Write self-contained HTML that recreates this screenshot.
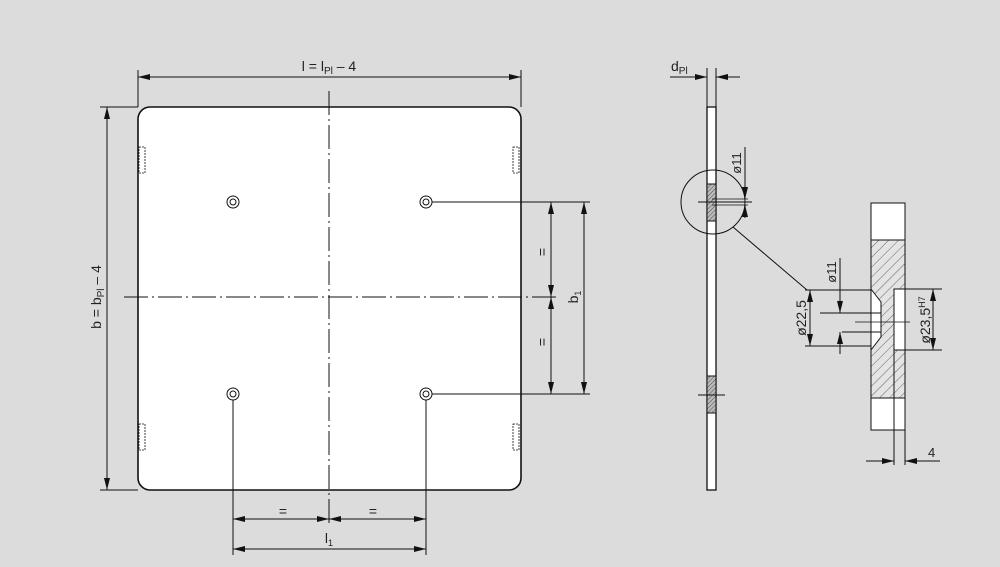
<!DOCTYPE html><html><head><style>html,body{margin:0;padding:0;background:#dcdcdc}svg{display:block}text{font-family:"Liberation Sans",sans-serif;fill:#222}</style></head><body>
<svg width="1000" height="567" viewBox="0 0 1000 567" xmlns="http://www.w3.org/2000/svg">
<defs>
<marker id="a" viewBox="0 0 12 6" refX="12" refY="3" markerWidth="12" markerHeight="6" orient="auto-start-reverse" markerUnits="userSpaceOnUse"><path d="M0,0L12,3L0,6z" fill="#111"/></marker>
<pattern id="h" width="7" height="7" patternUnits="userSpaceOnUse" patternTransform="rotate(45)"><rect width="7" height="7" fill="#e4e4e4"/><line x1="0" y1="0" x2="0" y2="7" stroke="#444" stroke-width="0.8"/></pattern>
<pattern id="h2" width="3" height="3" patternUnits="userSpaceOnUse" patternTransform="rotate(45)"><rect width="3" height="3" fill="#bbb"/><line x1="0" y1="0" x2="0" y2="3" stroke="#333" stroke-width="0.8"/></pattern>
</defs>
<rect width="1000" height="567" fill="#dcdcdc"/>
<g stroke="#111" stroke-width="1" fill="none">
<rect x="138" y="107" width="383" height="383" rx="12" fill="#fff" stroke-width="1.6"/>
<line x1="329" y1="91" x2="329" y2="525" stroke-dasharray="24,4,2,4"/>
<line x1="124" y1="297" x2="560" y2="297" stroke-dasharray="24,4,2,4"/>
<g stroke-width="0.8" stroke-dasharray="2,1"><rect x="139" y="147" width="6" height="26"/><rect x="513" y="147" width="6" height="26"/><rect x="139" y="424" width="6" height="26"/><rect x="513" y="424" width="6" height="26"/></g>
<g><circle cx="233" cy="202" r="6"/><circle cx="233" cy="202" r="3"/><circle cx="426" cy="202" r="6"/><circle cx="426" cy="202" r="3"/><circle cx="233" cy="394" r="6"/><circle cx="233" cy="394" r="3"/><circle cx="426" cy="394" r="6"/><circle cx="426" cy="394" r="3"/></g>
<line x1="138" y1="70" x2="138" y2="107"/><line x1="521" y1="70" x2="521" y2="107"/>
<line x1="138" y1="77" x2="521" y2="77" marker-start="url(#a)" marker-end="url(#a)"/>
<line x1="100" y1="107" x2="138" y2="107"/><line x1="100" y1="490" x2="138" y2="490"/>
<line x1="107" y1="107" x2="107" y2="490" marker-start="url(#a)" marker-end="url(#a)"/>
<line x1="432" y1="202" x2="590" y2="202"/><line x1="432" y1="394" x2="590" y2="394"/>
<line x1="551" y1="202" x2="551" y2="297" marker-start="url(#a)" marker-end="url(#a)"/>
<line x1="551" y1="297" x2="551" y2="394" marker-start="url(#a)" marker-end="url(#a)"/>
<line x1="584" y1="202" x2="584" y2="394" marker-start="url(#a)" marker-end="url(#a)"/>
<line x1="233" y1="400" x2="233" y2="555"/><line x1="426" y1="400" x2="426" y2="555"/>
<line x1="233" y1="519" x2="329" y2="519" marker-start="url(#a)" marker-end="url(#a)"/>
<line x1="329" y1="519" x2="426" y2="519" marker-start="url(#a)" marker-end="url(#a)"/>
<line x1="233" y1="549" x2="426" y2="549" marker-start="url(#a)" marker-end="url(#a)"/>
<rect x="707" y="107" width="9" height="383" fill="#fff" stroke-width="1.3"/>
<line x1="707" y1="68" x2="707" y2="107"/><line x1="716" y1="68" x2="716" y2="107"/>
<line x1="670" y1="77" x2="707" y2="77" marker-end="url(#a)"/><line x1="740" y1="77" x2="716" y2="77" marker-end="url(#a)"/>
<rect x="707" y="184" width="9" height="37" fill="url(#h2)"/>
<rect x="707" y="376" width="9" height="37" fill="url(#h2)"/>
<line x1="698" y1="202" x2="752" y2="202"/><line x1="698" y1="395" x2="725" y2="395"/>
<line x1="712" y1="199" x2="748" y2="199" stroke-width="0.8"/><line x1="712" y1="205" x2="748" y2="205" stroke-width="0.8"/>
<line x1="745" y1="147" x2="745" y2="199" marker-end="url(#a)"/><line x1="745" y1="218" x2="745" y2="205" marker-end="url(#a)"/>
<circle cx="713" cy="202" r="32"/>
<line x1="733" y1="227" x2="807" y2="290"/>
<rect x="871" y="203" width="34" height="227" fill="#fff"/>
<path d="M871,240H905V289H894V350H905V398H871V350L881,337V302L871,289Z" fill="url(#h)"/>
<line x1="871" y1="203" x2="871" y2="430"/><line x1="905" y1="203" x2="905" y2="430"/>
<line x1="871" y1="240" x2="905" y2="240"/><line x1="871" y1="398" x2="905" y2="398"/>
<rect x="894" y="289" width="11" height="61" fill="#fff"/>
<line x1="820" y1="313" x2="881" y2="313"/>
<line x1="842" y1="332" x2="881" y2="332"/>
<line x1="855" y1="322" x2="910" y2="322" stroke-width="0.8"/>
<line x1="805" y1="290" x2="871" y2="290"/><line x1="805" y1="346" x2="871" y2="346"/>
<line x1="810" y1="290" x2="810" y2="346" marker-start="url(#a)" marker-end="url(#a)"/>
<line x1="840" y1="258" x2="840" y2="313" marker-end="url(#a)"/><line x1="840" y1="354" x2="840" y2="332" marker-end="url(#a)"/>
<line x1="905" y1="289" x2="942" y2="289"/><line x1="905" y1="350" x2="942" y2="350"/>
<line x1="933" y1="289" x2="933" y2="350" marker-start="url(#a)" marker-end="url(#a)"/>
<line x1="894" y1="350" x2="894" y2="465"/><line x1="905" y1="430" x2="905" y2="465"/>
<line x1="866" y1="461" x2="894" y2="461" marker-end="url(#a)"/><line x1="940" y1="461" x2="905" y2="461" marker-end="url(#a)"/>
</g>
<text x="329" y="71" font-size="14" text-anchor="middle">l = l<tspan font-size="10" dy="3">Pl</tspan><tspan dy="-3"> – 4</tspan></text>
<text transform="translate(101,297) rotate(-90)" font-size="14" text-anchor="middle">b = b<tspan font-size="10" dy="3">Pl</tspan><tspan dy="-3"> – 4</tspan></text>
<text transform="translate(547,252) rotate(-90)" font-size="14" text-anchor="middle">=</text>
<text transform="translate(547,342) rotate(-90)" font-size="14" text-anchor="middle">=</text>
<text transform="translate(578,297) rotate(-90)" font-size="14" text-anchor="middle">b<tspan font-size="9" dy="3">1</tspan></text>
<text x="283" y="516" font-size="14" text-anchor="middle">=</text>
<text x="373" y="516" font-size="14" text-anchor="middle">=</text>
<text x="329" y="543" font-size="14" text-anchor="middle">l<tspan font-size="9" dy="3">1</tspan></text>
<text x="671" y="71" font-size="14">d<tspan font-size="10" dy="3">Pl</tspan></text>
<text transform="translate(741,163) rotate(-90)" font-size="13" text-anchor="middle">ø11</text>
<text transform="translate(836,272) rotate(-90)" font-size="13" text-anchor="middle">ø11</text>
<text transform="translate(806,318) rotate(-90)" font-size="14" text-anchor="middle">ø22,5</text>
<text transform="translate(930,320) rotate(-90)" font-size="14" text-anchor="middle">ø23,5<tspan font-size="9" dy="-5">H7</tspan></text>
<text x="928" y="457" font-size="13">4</text>
</svg></body></html>
